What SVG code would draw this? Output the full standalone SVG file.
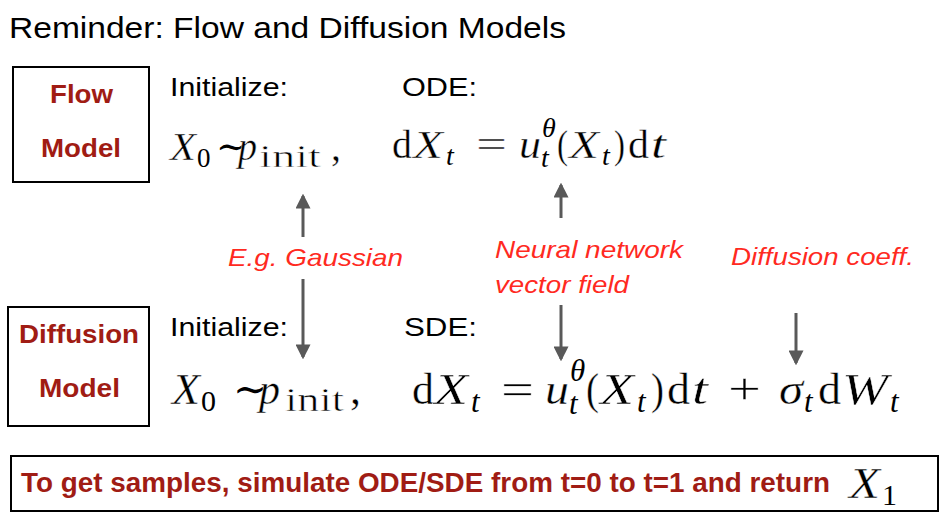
<svg xmlns="http://www.w3.org/2000/svg" width="948" height="525" viewBox="0 0 948 525">
<defs>
<style>
.sans{font-family:"Liberation Sans",Arial,sans-serif;fill:#000}
.lab{font-family:"Liberation Sans",Arial,sans-serif;font-weight:bold;fill:#a01c14}
.note{font-family:"Liberation Sans",Arial,sans-serif;font-style:italic;fill:#ff2a1f}
.m{font-family:"Liberation Serif","Times New Roman","DejaVu Serif",serif;fill:#000;stroke:#fff;stroke-width:0.4}
.i{font-style:italic}
.s{stroke:none}
.w{stroke:#fff;stroke-width:0.6}
.box{fill:#fff;stroke:#000;stroke-width:2}
.arr{stroke:#595959;stroke-width:3;fill:none}
</style>
<marker id="ah" markerWidth="5" markerHeight="5" refX="4.2" refY="2.5" orient="auto" markerUnits="strokeWidth">
<path d="M0,0 L5,2.5 L0,5 Z" fill="#595959"/>
</marker>
</defs>
<rect width="948" height="525" fill="#fff"/>
<text class="sans" x="9" y="38" font-size="29" textLength="557" lengthAdjust="spacingAndGlyphs">Reminder: Flow and Diffusion Models</text>

<g id="flow-model">
<rect class="box" x="13" y="67" width="136" height="115"/>
<text class="lab" x="50" y="103" font-size="26" textLength="63" lengthAdjust="spacingAndGlyphs">Flow</text>
<text class="lab" x="41" y="157" font-size="26" textLength="80" lengthAdjust="spacingAndGlyphs">Model</text>
</g>

<g id="flow-init">
<text class="sans" x="170" y="96" font-size="26" textLength="118" lengthAdjust="spacingAndGlyphs">Initialize:</text>
<g class="m" font-size="40">
<text class="i" x="170" y="160" textLength="26" lengthAdjust="spacingAndGlyphs">X</text>
<text class="s" x="197" y="167" font-size="27">0</text>
<text class="s" x="216" y="159" font-size="37">∼</text>
<text class="i" x="238" y="160" textLength="19" lengthAdjust="spacingAndGlyphs">p</text>
<text class="w" x="259" y="167" font-size="31" textLength="62" lengthAdjust="spacingAndGlyphs">init</text>
<text x="331" y="160">,</text>
</g>
</g>

<g id="flow-ode">
<text class="sans" x="402" y="96" font-size="26" textLength="75" lengthAdjust="spacingAndGlyphs">ODE:</text>
<g class="m" font-size="40">
<text x="392" y="158" textLength="20" lengthAdjust="spacingAndGlyphs">d</text>
<text class="i" x="413" y="158" textLength="30" lengthAdjust="spacingAndGlyphs">X</text>
<text class="i s" x="446" y="165" font-size="28">t</text>
<text x="476" y="158" textLength="31" lengthAdjust="spacingAndGlyphs">=</text>
<text class="i" x="519" y="158" textLength="22" lengthAdjust="spacingAndGlyphs">u</text>
<text class="i s" x="542" y="137" font-size="28">θ</text>
<text class="i s" x="541" y="167" font-size="28">t</text>
<text x="557" y="158" textLength="11" lengthAdjust="spacingAndGlyphs">(</text>
<text class="i" x="569" y="158" textLength="30" lengthAdjust="spacingAndGlyphs">X</text>
<text class="i s" x="602" y="165" font-size="28">t</text>
<text x="614" y="158" textLength="11" lengthAdjust="spacingAndGlyphs">)</text>
<text x="628" y="158" textLength="21" lengthAdjust="spacingAndGlyphs">d</text>
<text class="i" x="651" y="158" textLength="15" lengthAdjust="spacingAndGlyphs">t</text>
</g>
</g>

<g id="diffusion-model">
<rect class="box" x="8" y="307" width="141" height="119"/>
<text class="lab" x="19" y="343" font-size="26" textLength="120" lengthAdjust="spacingAndGlyphs">Diffusion</text>
<text class="lab" x="39" y="397" font-size="26" textLength="81" lengthAdjust="spacingAndGlyphs">Model</text>
</g>

<g id="diffusion-init">
<text class="sans" x="170" y="336" font-size="26" textLength="118" lengthAdjust="spacingAndGlyphs">Initialize:</text>
<g class="m" font-size="44">
<text class="i" x="172" y="404" textLength="28" lengthAdjust="spacingAndGlyphs">X</text>
<text class="s" x="201" y="411" font-size="30">0</text>
<text class="s" x="233" y="403" font-size="41">∼</text>
<text class="i" x="259" y="404" textLength="21" lengthAdjust="spacingAndGlyphs">p</text>
<text class="w" x="285" y="411" font-size="33" textLength="59" lengthAdjust="spacingAndGlyphs">init</text>
<text x="350" y="404">,</text>
</g>
</g>

<g id="diffusion-sde">
<text class="sans" x="404" y="336" font-size="26" textLength="73" lengthAdjust="spacingAndGlyphs">SDE:</text>
<g class="m" font-size="44">
<text x="412" y="404" textLength="22" lengthAdjust="spacingAndGlyphs">d</text>
<text class="i" x="434" y="404" textLength="34" lengthAdjust="spacingAndGlyphs">X</text>
<text class="i s" x="471" y="412" font-size="31">t</text>
<text x="501" y="404" textLength="33" lengthAdjust="spacingAndGlyphs">=</text>
<text class="i" x="545" y="404" textLength="24" lengthAdjust="spacingAndGlyphs">u</text>
<text class="i s" x="570" y="381" font-size="31">θ</text>
<text class="i s" x="569" y="414" font-size="31">t</text>
<text x="586" y="404" textLength="13" lengthAdjust="spacingAndGlyphs">(</text>
<text class="i" x="600" y="404" textLength="34" lengthAdjust="spacingAndGlyphs">X</text>
<text class="i s" x="637" y="412" font-size="31">t</text>
<text x="651" y="404" textLength="13" lengthAdjust="spacingAndGlyphs">)</text>
<text x="667" y="404" textLength="23" lengthAdjust="spacingAndGlyphs">d</text>
<text class="i" x="692" y="404" textLength="16" lengthAdjust="spacingAndGlyphs">t</text>
<text x="728" y="404" textLength="33" lengthAdjust="spacingAndGlyphs">+</text>
<text class="i" x="779" y="404" textLength="24" lengthAdjust="spacingAndGlyphs">σ</text>
<text class="i s" x="804" y="412" font-size="31">t</text>
<text x="818" y="404" textLength="23" lengthAdjust="spacingAndGlyphs">d</text>
<text class="i" x="842" y="404" textLength="46" lengthAdjust="spacingAndGlyphs">W</text>
<text class="i s" x="890" y="412" font-size="31">t</text>
</g>
</g>

<g id="notes">
<text class="note" x="228" y="266" font-size="24" textLength="175" lengthAdjust="spacingAndGlyphs">E.g. Gaussian</text>
<text class="note" x="495" y="258" font-size="24" textLength="188" lengthAdjust="spacingAndGlyphs">Neural network</text>
<text class="note" x="495" y="293" font-size="24" textLength="134" lengthAdjust="spacingAndGlyphs">vector field</text>
<text class="note" x="731" y="265" font-size="24" textLength="183" lengthAdjust="spacingAndGlyphs">Diffusion coeff.</text>
</g>

<g id="connectors">
<line class="arr" x1="303" y1="237" x2="303" y2="196" marker-end="url(#ah)"/>
<line class="arr" x1="303" y1="279" x2="303" y2="357" marker-end="url(#ah)"/>
<line class="arr" x1="561" y1="218" x2="561" y2="185" marker-end="url(#ah)"/>
<line class="arr" x1="561" y1="305" x2="561" y2="359" marker-end="url(#ah)"/>
<line class="arr" x1="796" y1="313" x2="796" y2="363" marker-end="url(#ah)"/>
</g>

<g id="summary">
<rect class="box" x="11" y="456" width="927" height="55"/>
<text x="21" y="492" font-family="Liberation Sans, Arial, sans-serif" font-weight="bold" font-size="27" fill="#a01c14" textLength="809" lengthAdjust="spacingAndGlyphs">To get samples, simulate ODE/SDE from t=0 to t=1 and return</text>
<text class="m i" x="849" y="498" font-size="44" textLength="31" lengthAdjust="spacingAndGlyphs">X</text>
<text class="m s" x="882" y="505" font-size="30">1</text>
</g>
</svg>
